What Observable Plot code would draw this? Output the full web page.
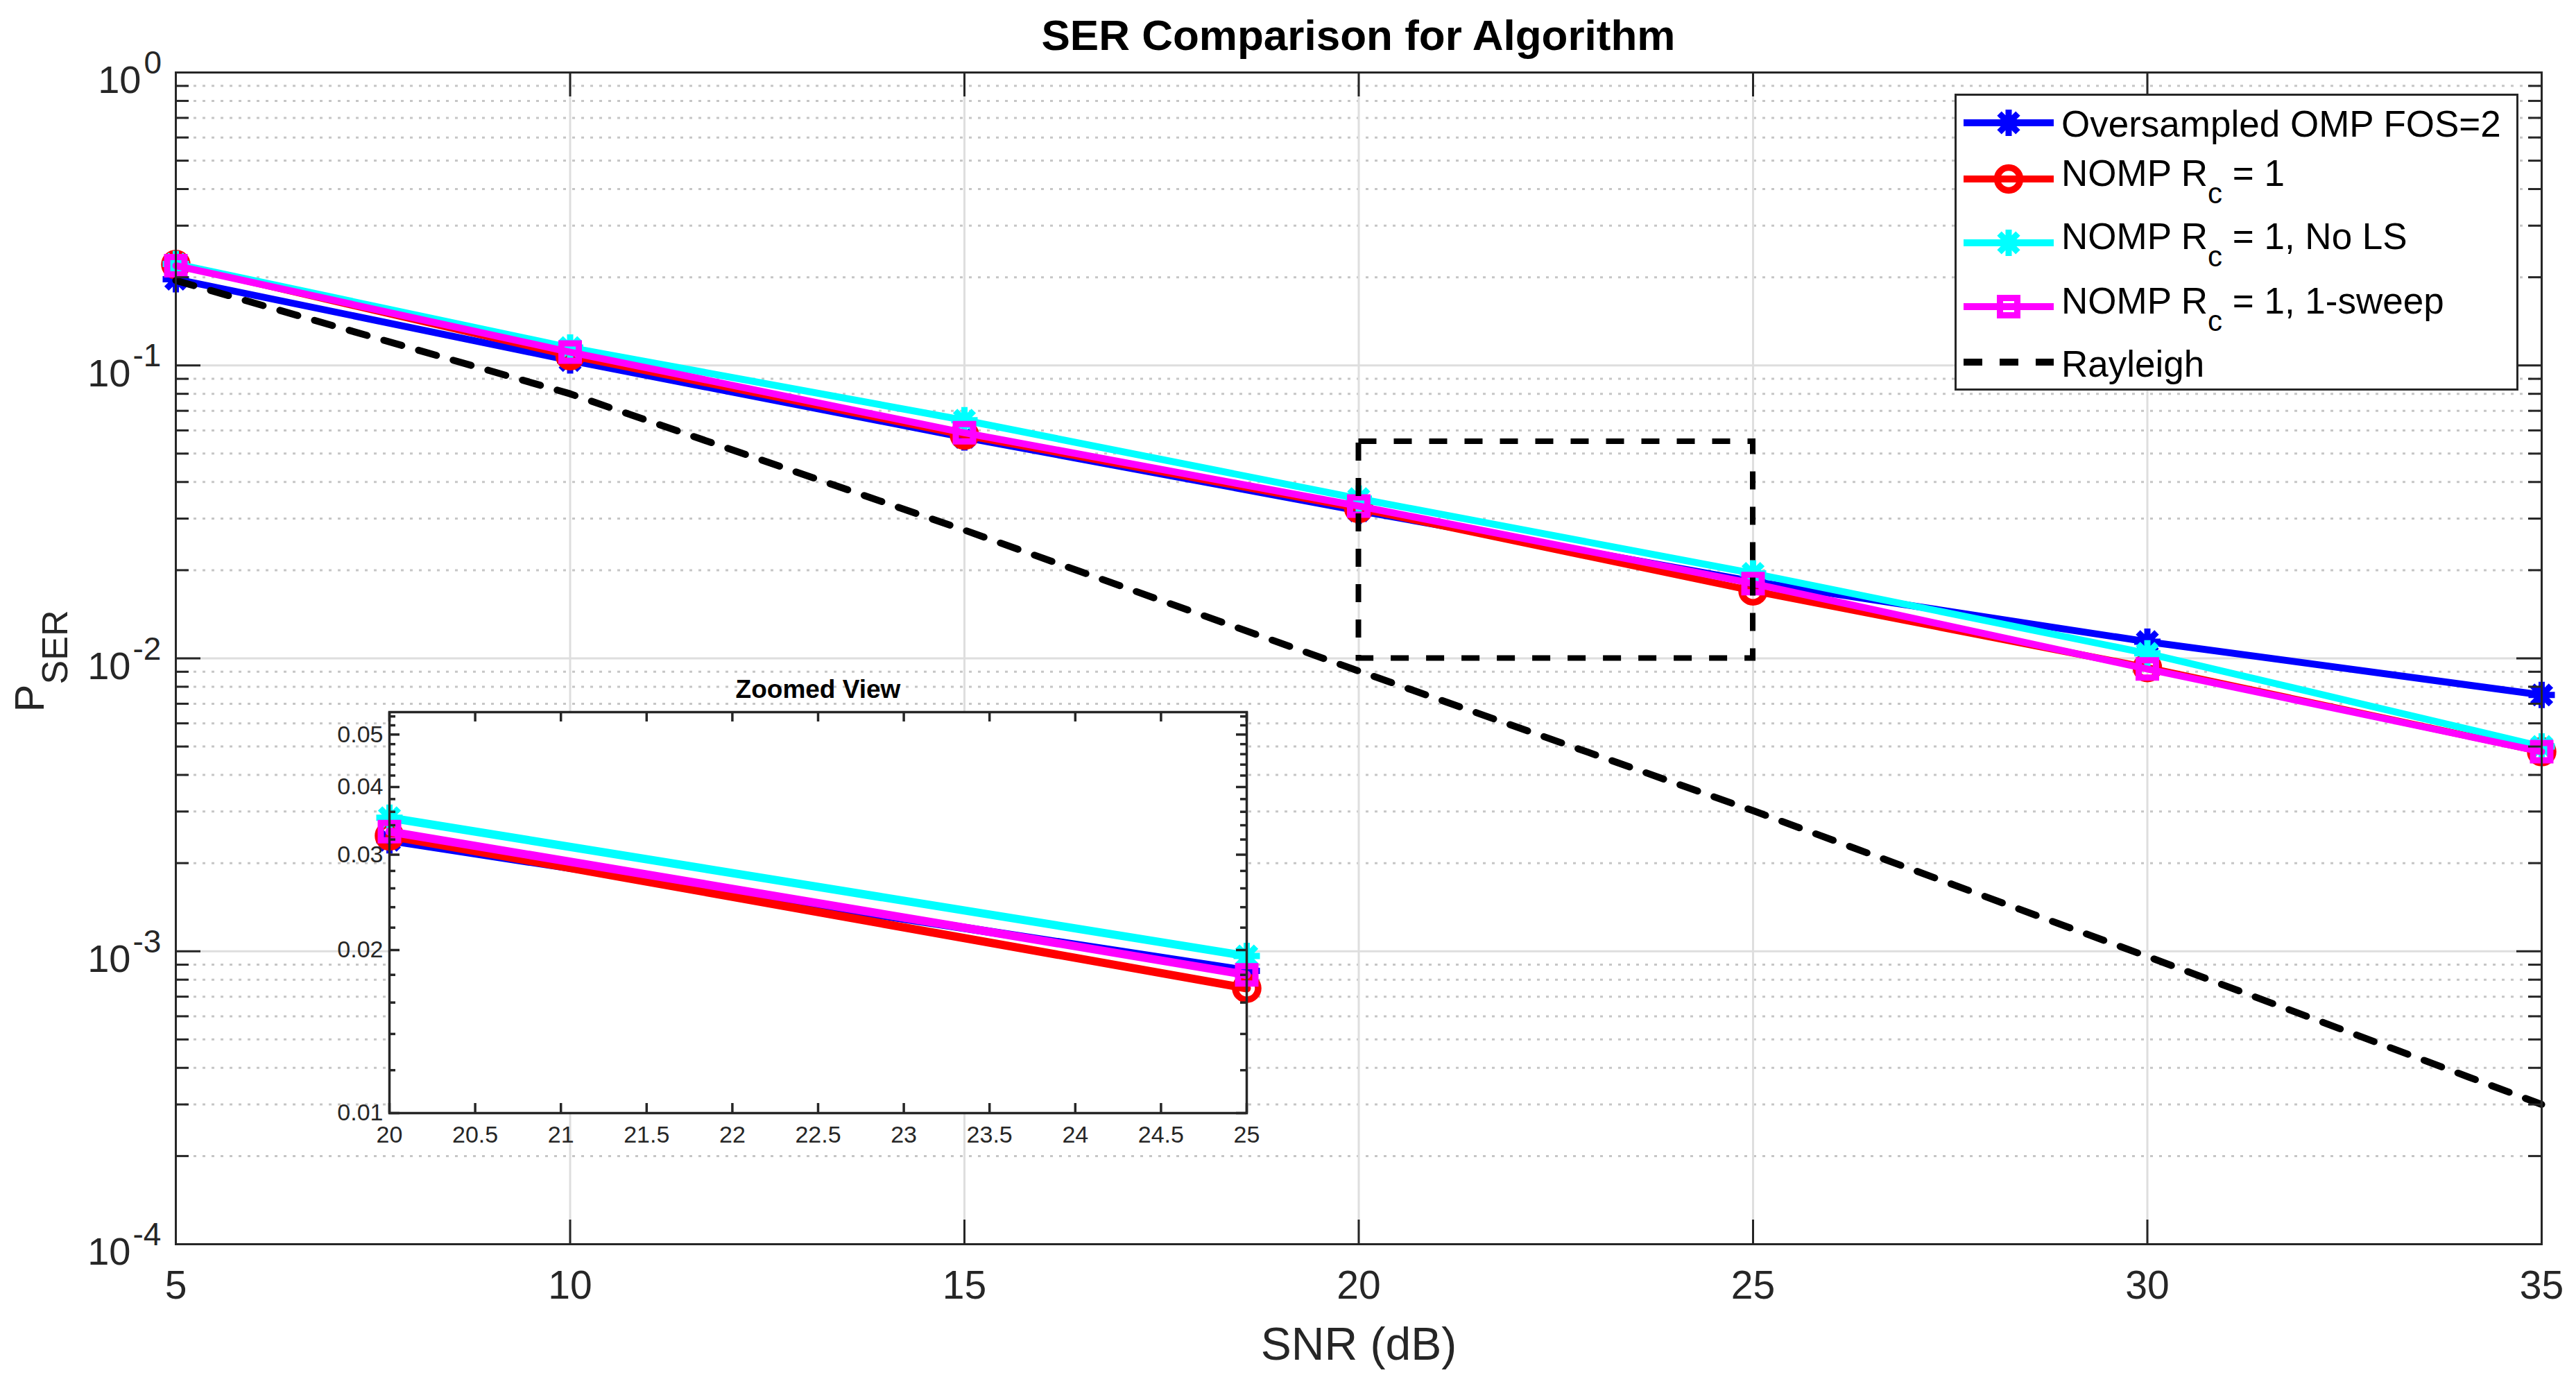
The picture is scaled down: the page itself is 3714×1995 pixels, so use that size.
<!DOCTYPE html>
<html>
<head>
<meta charset="utf-8">
<script src="https://cdn.jsdelivr.net/npm/d3@7"></script>
<script src="https://cdn.jsdelivr.net/npm/@observablehq/plot@0.6"></script>
<style>
  html, body { margin: 0; padding: 0; background: #ffffff; overflow: hidden; }
  #root { position: relative; width: 3714px; height: 1995px; overflow: hidden; background: #ffffff; }
  #root svg { position: absolute; max-width: none; }
  #title { position: absolute; left: 253px; width: 3411px; top: 20px; text-align: center;
           font-family: "Liberation Sans", Arial, sans-serif; font-weight: bold; font-size: 62px;
           line-height: 1; color: #000; }
</style>
</head>
<body>
<div id="root"><div id="title">SER Comparison for Algorithm</div></div>
<script>
// ---------------- data ----------------
const snr = [5, 10, 15, 20, 25, 30, 35];
const serOmpFos2   = [0.197, 0.104, 0.0568, 0.0319, 0.0183, 0.0114, 0.0075];
const serNomp      = [0.221, 0.108, 0.0578, 0.0325, 0.0170, 0.0093, 0.0048];
const serNompNoLS  = [0.222, 0.115, 0.0650, 0.0351, 0.0195, 0.0104, 0.0050];
const serNomp1Sw   = [0.219, 0.111, 0.0589, 0.0331, 0.0180, 0.0092, 0.0048];
const serRayleigh  = [0.195, 0.0800, 0.0274, 0.00905, 0.00302, 0.00096, 0.00030];

const seriesNames = ["Oversampled OMP FOS=2", "NOMP R_c = 1", "NOMP R_c = 1, No LS", "NOMP R_c = 1, 1-sweep", "Rayleigh"];
const seriesValues = [serOmpFos2, serNomp, serNompNoLS, serNomp1Sw, serRayleigh];

const xTicks = [5, 10, 15, 20, 25, 30, 35];
const yDecades = [1e-4, 1e-3, 1e-2, 1e-1, 1];
const yMinorMultipliers = [2, 3, 4, 5, 6, 7, 8, 9];

const zoomX = [20, 25];
const zoomY = [0.01, 0.055];
const insetXTicks = [20, 20.5, 21, 21.5, 22, 22.5, 23, 23.5, 24, 24.5, 25];
const insetYMajor = [0.01, 0.02, 0.03, 0.04, 0.05];
const insetYMinor = [0.012, 0.014, 0.016, 0.018, 0.022, 0.024, 0.026, 0.028,
                     0.032, 0.034, 0.036, 0.038, 0.042, 0.044, 0.046, 0.048, 0.052, 0.054];

const titleText = "SER Comparison for Algorithm";
const xLabel = "SNR (dB)";
const insetTitle = "Zoomed View";

// ---------------- styles ----------------
const FONT = "Liberation Sans, Arial, Helvetica, sans-serif";
const AX = "#262626";
const colors = ["#0000ff", "#ff0000", "#00ffff", "#ff00ff", "#000000"];
const markers = ["asterisk", "circle", "asterisk", "square", null];

const asterisk = {
  draw(ctx, size) {
    const r = Math.sqrt(size / Math.PI), d = r * Math.SQRT1_2;
    ctx.moveTo(0, -r); ctx.lineTo(0, r);
    ctx.moveTo(-r, 0); ctx.lineTo(r, 0);
    ctx.moveTo(-d, -d); ctx.lineTo(d, d);
    ctx.moveTo(-d, d); ctx.lineTo(d, -d);
  }
};
function markerSpec(m) {
  if (m === "asterisk") return {symbol: asterisk, r: 19, strokeWidth: 9};
  if (m === "circle") return {symbol: "circle", r: 16.5, strokeWidth: 9.5};
  return {symbol: "square", r: 14.1, strokeWidth: 9};
}

// rows
const rows = seriesNames.flatMap((name, k) => snr.map((x, i) => ({k, name, snr: x, ser: seriesValues[k][i]})));

function seriesMarks(data, lineWidth) {
  const out = [];
  for (let k = 0; k < seriesNames.length; k++) {
    const d = data.filter(r => r.k === k);
    if (k < 4) {
      out.push(Plot.line(d, {x: "snr", y: "ser", stroke: colors[k], strokeWidth: lineWidth, strokeLinejoin: "round"}));
      const ms = markerSpec(markers[k]);
      out.push(Plot.dot(d, {x: "snr", y: "ser", symbol: ms.symbol, r: ms.r, fill: "none", stroke: colors[k], strokeWidth: ms.strokeWidth}));
    } else if (data.length > 20) {
      out.push(Plot.line(d, {x: "snr", y: "ser", stroke: colors[k], strokeWidth: lineWidth, strokeDasharray: "27,25"}));
    }
  }
  return out;
}

const root = document.getElementById("root");

// ---------------- main plot ----------------
const W = 3714, H = 1995, mL = 253, mR = 50, mT = 104, mB = 202;
const fH = H - mT - mB, fW = W - mL - mR;
const yMinor = yDecades.slice(0, 4).flatMap(d => yMinorMultipliers.map(m => m * d));

const main = Plot.plot({
  width: W, height: H,
  marginLeft: mL, marginRight: mR, marginTop: mT, marginBottom: mB,
  style: {fontFamily: FONT, background: "transparent"},
  x: {domain: [xTicks[0], xTicks[xTicks.length - 1]], axis: null},
  y: {type: "log", domain: [yDecades[0], yDecades[yDecades.length - 1]], axis: null},
  marks: [
    Plot.ruleY(yMinor, {stroke: "#c6c6c6", strokeWidth: 3, strokeDasharray: "4,9"}),
    Plot.ruleY(yDecades.slice(1, 4), {stroke: "#dedede", strokeWidth: 3}),
    Plot.ruleX(xTicks.slice(1, 6), {stroke: "#dedede", strokeWidth: 3}),
    ...seriesMarks(rows, 10),
    Plot.rect([{x1: zoomX[0], x2: zoomX[1], y1: zoomY[0], y2: zoomY[1]}],
      {x1: "x1", x2: "x2", y1: "y1", y2: "y2", fill: "none", stroke: "#000", strokeWidth: 8, strokeDasharray: "26,25"}),
    // ticks (inward)
    Plot.ruleX(xTicks, {stroke: AX, strokeWidth: 3, insetTop: fH - 35}),
    Plot.ruleX(xTicks, {stroke: AX, strokeWidth: 3, insetBottom: fH - 35}),
    Plot.ruleY(yDecades, {stroke: AX, strokeWidth: 3, insetRight: fW - 36}),
    Plot.ruleY(yDecades, {stroke: AX, strokeWidth: 3, insetLeft: fW - 36}),
    Plot.ruleY(yMinor, {stroke: AX, strokeWidth: 3, insetRight: fW - 19}),
    Plot.ruleY(yMinor, {stroke: AX, strokeWidth: 3, insetLeft: fW - 19}),
    Plot.frame({stroke: AX, strokeWidth: 3}),
    // tick labels
    Plot.text(xTicks, {x: d => d, frameAnchor: "bottom", dy: 60, text: d => String(d),
      fontSize: 57, fill: AX, lineAnchor: "middle", fontFamily: FONT}),
    Plot.text(yDecades.filter(d => d < 1), {y: d => d, frameAnchor: "left", text: () => "10",
      textAnchor: "end", dx: -65, dy: 12, fontSize: 56, fill: AX, lineAnchor: "middle", fontFamily: FONT}),
    Plot.text(yDecades.filter(d => d < 1), {y: d => d, frameAnchor: "left", text: d => String(Math.round(Math.log10(d))),
      textAnchor: "start", dx: -62, dy: -13, fontSize: 46, fill: AX, lineAnchor: "middle", fontFamily: FONT}),
    Plot.text(yDecades.filter(d => d === 1), {y: d => d, frameAnchor: "left", text: () => "10",
      textAnchor: "end", dx: -50, dy: 12, fontSize: 56, fill: AX, lineAnchor: "middle", fontFamily: FONT}),
    Plot.text(yDecades.filter(d => d === 1), {y: d => d, frameAnchor: "left", text: d => String(Math.round(Math.log10(d))),
      textAnchor: "start", dx: -46, dy: -13, fontSize: 46, fill: AX, lineAnchor: "middle", fontFamily: FONT}),
    Plot.text([xLabel], {frameAnchor: "bottom", dy: 145, text: d => d, fontSize: 66, fill: AX,
      lineAnchor: "middle", fontFamily: FONT})
  ]
});
main.style.left = "0px"; main.style.top = "0px";
root.appendChild(main);

// y label with subscript
{
  const t = d3.select(main).append("text")
    .attr("transform", "translate(63,953) rotate(-90)")
    .attr("text-anchor", "middle").attr("font-family", FONT).attr("fill", AX);
  t.append("tspan").attr("font-size", 60).text("P");
  t.append("tspan").attr("font-size", 52).attr("dy", 34).text("SER");
}

// ---------------- inset ----------------
const inL = 561, inR = 1797, inT = 1026, inB = 1604;
const imL = 100, imR = 40, imT = 80, imB = 70;
const ifW = inR - inL, ifH = inB - inT;
const insetRows = rows.filter(r => r.snr >= zoomX[0] && r.snr <= zoomX[1] && r.k < 4);
const inset = Plot.plot({
  width: ifW + imL + imR, height: ifH + imT + imB,
  marginLeft: imL, marginRight: imR, marginTop: imT, marginBottom: imB,
  style: {fontFamily: FONT, background: "transparent"},
  x: {domain: zoomX, axis: null},
  y: {type: "log", domain: zoomY, axis: null},
  marks: [
    Plot.frame({fill: "#ffffff", stroke: "none"}),
    ...seriesMarks(insetRows, 12),
    Plot.ruleX(insetXTicks, {stroke: AX, strokeWidth: 3.5, insetTop: ifH - 14}),
    Plot.ruleX(insetXTicks, {stroke: AX, strokeWidth: 3.5, insetBottom: ifH - 14}),
    Plot.ruleY(insetYMajor, {stroke: AX, strokeWidth: 3.5, insetRight: ifW - 15}),
    Plot.ruleY(insetYMajor, {stroke: AX, strokeWidth: 3.5, insetLeft: ifW - 15}),
    Plot.ruleY(insetYMinor, {stroke: AX, strokeWidth: 3.5, insetRight: ifW - 9}),
    Plot.ruleY(insetYMinor, {stroke: AX, strokeWidth: 3.5, insetLeft: ifW - 9}),
    Plot.frame({stroke: AX, strokeWidth: 3.5}),
    Plot.text(insetXTicks, {x: d => d, frameAnchor: "bottom", dy: 32, text: d => String(d),
      fontSize: 34, fill: AX, lineAnchor: "middle", fontFamily: FONT}),
    Plot.text(insetYMajor, {y: d => d, frameAnchor: "left", dx: -9, text: d => d.toFixed(2),
      textAnchor: "end", fontSize: 34, fill: AX, lineAnchor: "middle", fontFamily: FONT}),
    Plot.text([insetTitle], {frameAnchor: "top", dy: -32, text: d => d, fontSize: 37, fontWeight: "bold",
      fill: "#000", lineAnchor: "middle", fontFamily: FONT})
  ]
});
inset.style.left = (inL - imL) + "px"; inset.style.top = (inT - imT) + "px";
root.appendChild(inset);

// ---------------- legend ----------------
{
  const LW = 813, LH = 428;
  const leg = d3.create("svg").attr("width", LW).attr("height", LH)
    .style("left", "2818px").style("top", "135px");
  leg.append("rect").attr("x", 1.5).attr("y", 1.5).attr("width", LW - 3).attr("height", LH - 3)
    .attr("fill", "#fff").attr("stroke", AX).attr("stroke-width", 3);
  const rowY = [42, 123, 215, 307, 387];
  const baseY = [62, 133, 224, 317, 408];
  seriesNames.forEach((name, k) => {
    const g = leg.append("g");
    g.append("line").attr("x1", 13).attr("x2", 143).attr("y1", rowY[k]).attr("y2", rowY[k])
      .attr("stroke", colors[k]).attr("stroke-width", 10)
      .attr("stroke-dasharray", k === 4 ? "27,25" : null);
    if (markers[k]) {
      const ms = markerSpec(markers[k]);
      const type = ms.symbol === asterisk ? asterisk : (ms.symbol === "circle" ? d3.symbolCircle : d3.symbolSquare);
      g.append("path").attr("d", d3.symbol(type, Math.PI * ms.r * ms.r)())
        .attr("transform", `translate(78,${rowY[k]})`)
        .attr("fill", "none").attr("stroke", colors[k]).attr("stroke-width", ms.strokeWidth);
    }
    const t = g.append("text").attr("x", 154).attr("y", baseY[k]).attr("font-family", FONT)
      .attr("font-size", 53).attr("fill", "#000");
    const parts = name.split("_");
    if (parts.length === 1) {
      t.text(name);
    } else {
      t.append("tspan").text(parts[0]);
      t.append("tspan").attr("font-size", 42).attr("dy", 25).text(parts[1].charAt(0));
      t.append("tspan").attr("dy", -25).text(parts[1].slice(1));
    }
  });
  root.appendChild(leg.node());
}
</script>
</body>
</html>
